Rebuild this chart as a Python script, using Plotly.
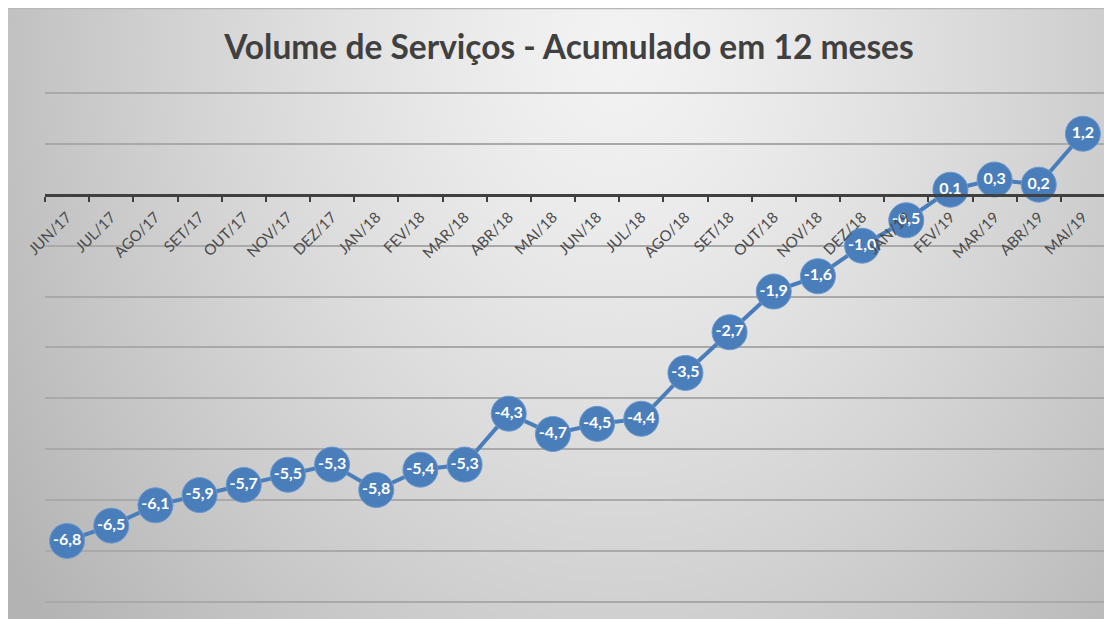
import base64
import struct
import zlib

import numpy as np
import plotly.graph_objects as go

# ---- data ----
categories = ["JUN/17", "JUL/17", "AGO/17", "SET/17", "OUT/17", "NOV/17", "DEZ/17",
              "JAN/18", "FEV/18", "MAR/18", "ABR/18", "MAI/18", "JUN/18", "JUL/18",
              "AGO/18", "SET/18", "OUT/18", "NOV/18", "DEZ/18", "JAN/19", "FEV/19",
              "MAR/19", "ABR/19", "MAI/19"]
values = [-6.8, -6.5, -6.1, -5.9, -5.7, -5.5, -5.3, -5.8, -5.4, -5.3, -4.3, -4.7,
          -4.5, -4.4, -3.5, -2.7, -1.9, -1.6, -1.0, -0.5, 0.1, 0.3, 0.2, 1.2]
labels = [f"{v:.1f}".replace(".", ",") for v in values]
title_text = "Volume de Serviços - Acumulado em 12 meses"

# page body keeps an 8px margin, which gives the white frame of the original
W, H = 1104, 611
BLUE = "#4a7ebb"


# ---- background gradient as PNG ----
def make_png(arr):
    h, w, _ = arr.shape
    raw = b"".join(b"\x00" + arr[i].tobytes() for i in range(h))

    def chunk(tag, data):
        c = struct.pack(">I", len(data)) + tag + data
        return c + struct.pack(">I", zlib.crc32(tag + data) & 0xFFFFFFFF)

    sig = b"\x89PNG\r\n\x1a\n"
    ihdr = struct.pack(">IIBBBBB", w, h, 8, 2, 0, 0, 0)
    return sig + chunk(b"IHDR", ihdr) + chunk(b"IDAT", zlib.compress(raw, 9)) + chunk(b"IEND", b"")


bw, bh = 276, 153
xs = np.linspace(0, W, bw)[None, :]
ys = np.linspace(0, H, bh)[:, None]
d = np.sqrt(((xs - 610) / 620) ** 2 + ((ys - 40) / 760) ** 2)
g = 243 - (243 - 193) * np.clip(d, 0, 1.2) ** 1.3
g = np.clip(g, 0, 255).astype(np.uint8)
img = np.stack([g, g, g], axis=-1)
src = "data:image/png;base64," + base64.b64encode(make_png(img)).decode()

# ---- geometry ----
y_lo, y_hi = -8.05, 2.05
px_per_unit = (594 - 85) / 10.0
top_px = 85 - (y_hi - 2) * px_per_unit
bot_px = 594 + (-8 - y_lo) * px_per_unit
dom_bottom = (H - bot_px) / H
dom_top = (H - top_px) / H
zero_pos = dom_bottom + (dom_top - dom_bottom) * (0 - y_lo) / (y_hi - y_lo)

fig = go.Figure()
fig.add_trace(go.Scatter(
    x=categories, y=values, mode="lines+markers+text",
    text=labels, textposition="middle center",
    textfont=dict(family="Lato", size=16, color="white", weight="bold"),
    line=dict(color=BLUE, width=4),
    marker=dict(size=35, color=BLUE, line=dict(color="#6b98cf", width=1)),
    cliponaxis=False, hoverinfo="skip",
))

fig.update_layout(
    width=W, height=H,
    margin=dict(l=0, r=0, t=0, b=0, autoexpand=False),
    paper_bgcolor="white",
    plot_bgcolor="rgba(0,0,0,0)",
    showlegend=False,
    title=dict(text=title_text, x=561 / W, xanchor="center", y=1 - 39 / H, yanchor="middle",
               font=dict(family="Lato", size=33.5, color="#404040", weight="bold")),
    images=[dict(source=src, xref="paper", yref="paper", x=0, y=1,
                 sizex=1, sizey=1, xanchor="left", yanchor="top",
                 sizing="stretch", layer="below")],
    shapes=[dict(type="line", xref="paper", yref="paper", x0=0, x1=1, y0=1 - 0.5 / H, y1=1 - 0.5 / H,
                 line=dict(color="#b8b8b8", width=1.5))],
    xaxis=dict(
        type="category", domain=[37 / W, 1097 / W], range=[-0.5, len(categories) - 0.5],
        anchor="free", position=zero_pos, automargin=False,
        showline=True, linecolor="#404040", linewidth=2.5,
        ticks="outside", ticklen=5, tickwidth=2, tickcolor="#404040", tickson="boundaries",
        tickangle=-45, ticklabelstandoff=6,
        tickfont=dict(family="Lato", size=15, color="#4a4a4a"),
        showgrid=False, zeroline=False,
    ),
    yaxis=dict(
        domain=[dom_bottom, dom_top], range=[y_lo, y_hi], dtick=1, tick0=0,
        showticklabels=False, showgrid=True, gridcolor="#a9a9a9", gridwidth=1.5,
        zeroline=False, showline=False, ticks="", automargin=False,
    ),
)

fig.write_html("out.html")
